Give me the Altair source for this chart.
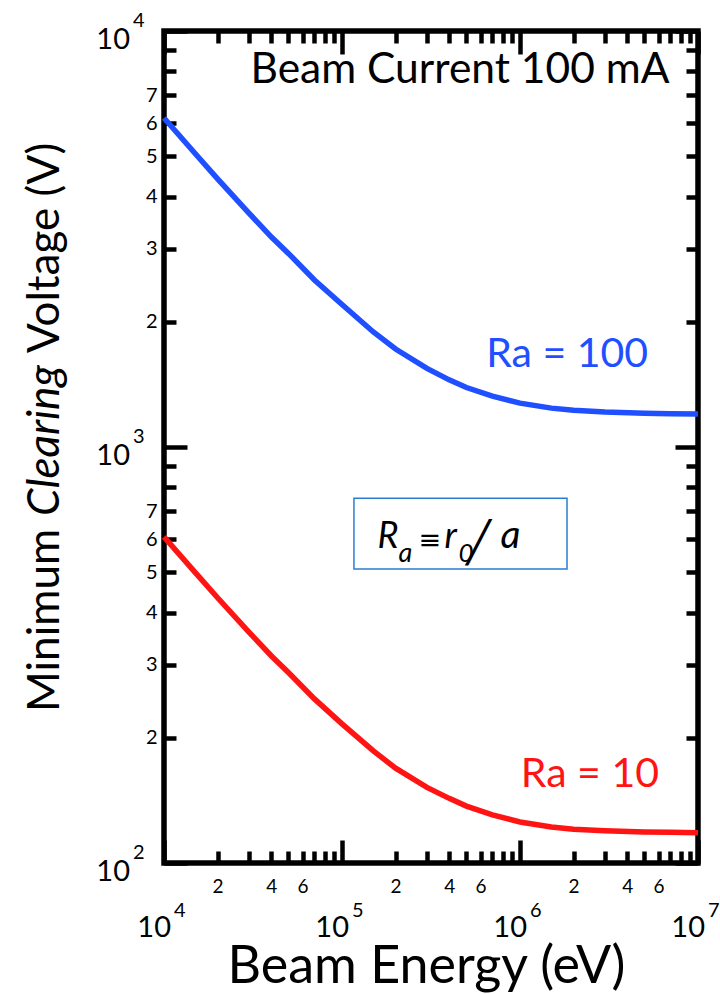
import math

import altair as alt
import pandas as pd

# ---- data -------------------------------------------------------------
# Beam energy (eV)
energy = [1e4, 1.5e4, 2e4, 3e4, 4e4, 5e4, 7e4, 1e5, 1.5e5, 2e5, 3e5, 4e5, 5e5,
          7e5, 1e6, 1.5e6, 2e6, 3e6, 5e6, 7e6, 1e7]
# Minimum clearing voltage (V) for Ra = 100 and Ra = 10
volt_ra100 = [6180, 5070, 4410, 3650, 3200, 2920, 2520, 2200, 1890, 1720, 1545,
              1450, 1390, 1325, 1275, 1240, 1225, 1213, 1205, 1202, 1200]
volt_ra10 = [608, 499, 434, 359, 315, 287, 248, 216, 186, 169, 152,
             143, 137, 130.5, 125.5, 122, 120.5, 119.5, 118.8, 118.5, 118.3]

series_names = ["Ra = 100", "Ra = 10"]
series_colors = ["#1f4fff", "#ff1414"]

# decade ticks and the minor multipliers that carry a label
x_decades = [4, 5, 6, 7]
y_decades = [2, 3, 4]
minor_mult = [2, 3, 4, 5, 6, 7, 8, 9]
x_minor_labeled = [2, 4, 6]
y_minor_labeled = [2, 3, 4, 5, 6, 7]

# ---- layout / style -----------------------------------------------------
FONT = "Lato"
PLOT_W, PLOT_H = 534, 832
PAD = {"left": 164, "top": 31, "right": 22, "bottom": 131}

# annotation anchors (data coordinates)
label_energy = [1.84e6, 2.47e6]
label_volt = [1660, 163]
header_anchor = (4.6e5, 8060)
box_energy = [1.167e5, 1.837e6]
box_volt = [753, 509]

x_ticks = [m * 10 ** d for d in x_decades[:-1] for m in [1] + minor_mult] + [10 ** x_decades[-1]]
y_ticks = [m * 10 ** d for d in y_decades[:-1] for m in [1] + minor_mult] + [10 ** y_decades[-1]]

xs = alt.Scale(type="log", domain=[10 ** x_decades[0], 10 ** x_decades[-1]], nice=False)
ys = alt.Scale(type="log", domain=[10 ** y_decades[0], 10 ** y_decades[-1]], nice=False)

LOG10 = "(log(datum.value)/LN10)"
IS_MAJOR = f"(abs({LOG10} - round({LOG10})) < 0.001)"
MANT = f"round(datum.value / pow(10, floor({LOG10} + 0.001)))"
TICK_SIZE = alt.ExprRef(expr=f"{IS_MAJOR} ? -23 : -12")


def minor_label_expr(labeled):
    return f"{IS_MAJOR} ? '' : (indexof({labeled}, {MANT}) >= 0 ? '' + {MANT} : '')"


common_axis = dict(grid=False, domain=False, tickColor="black", tickWidth=4.5,
                   tickSize=TICK_SIZE, labelFont=FONT, labelColor="black",
                   labelOverlap=False, labelFlush=False)

x_bottom = alt.Axis(orient="bottom", values=x_ticks, labelExpr=minor_label_expr(x_minor_labeled),
                    labelFontSize=19, labelPadding=26, title="Beam Energy (eV)",
                    titleFont=FONT, titleFontSize=52, titleFontWeight="normal",
                    titleColor="black", titleX=PLOT_W / 2 - 5, titleY=119,
                    titleBaseline="alphabetic", titleAlign="center", **common_axis)
y_left = alt.Axis(orient="left", values=y_ticks, labelExpr=minor_label_expr(y_minor_labeled),
                  labelFontSize=20, labelPadding=19, title=None, **common_axis)
x_top = alt.Axis(orient="top", values=x_ticks, labels=False, title=None, **common_axis)
y_right = alt.Axis(orient="right", values=y_ticks, labels=False, title=None, **common_axis)

color = alt.Color("series:N", scale=alt.Scale(domain=series_names, range=series_colors), legend=None)

# ---- tables -------------------------------------------------------------
curves = pd.concat([
    pd.DataFrame({"energy": energy, "voltage": volt_ra100, "series": series_names[0]}),
    pd.DataFrame({"energy": energy, "voltage": volt_ra10, "series": series_names[1]}),
])
labels = pd.DataFrame({"energy": label_energy, "voltage": label_volt, "series": series_names})
x_major = pd.DataFrame({"e": [10.0 ** d for d in x_decades], "exp": [str(d) for d in x_decades]})
y_major = pd.DataFrame({"v": [10.0 ** d for d in y_decades], "exp": [str(d) for d in y_decades]})
box = pd.DataFrame({"e0": [box_energy[0]], "e1": [box_energy[1]],
                    "v0": [box_volt[0]], "v1": [box_volt[1]]})
anchor = pd.DataFrame({"e": [math.sqrt(box_energy[0] * box_energy[1])],
                       "v": [math.sqrt(box_volt[0] * box_volt[1])]})
header = pd.DataFrame({"e": [header_anchor[0]], "v": [header_anchor[1]]})
one = pd.DataFrame({"k": [0]})

# ---- layers -------------------------------------------------------------
lines = alt.Chart(curves).mark_line(strokeWidth=5.5).encode(
    x=alt.X("energy:Q", scale=xs, axis=x_bottom),
    y=alt.Y("voltage:Q", scale=ys, axis=y_left),
    color=color,
)

series_text = alt.Chart(labels).mark_text(font=FONT, fontSize=41, align="center",
                                          baseline="middle").encode(
    x=alt.X("energy:Q", scale=xs, axis=x_top),
    y=alt.Y("voltage:Q", scale=ys, axis=y_right),
    text="series:N",
    color=color,
)

header_text = alt.Chart(header).mark_text(text="Beam Current 100 mA", font=FONT, fontSize=42.5,
                                          align="center", baseline="middle", color="black").encode(
    x=alt.X("e:Q", scale=xs, axis=None), y=alt.Y("v:Q", scale=ys, axis=None))

x_ten = alt.Chart(x_major).mark_text(text="10", font=FONT, fontSize=29, align="right",
                                     baseline="alphabetic", dx=7, dy=74, color="black").encode(
    x=alt.X("e:Q", scale=xs, axis=None), y=alt.value(PLOT_H))
x_exp = alt.Chart(x_major).mark_text(font=FONT, fontSize=20, align="left",
                                     baseline="alphabetic", dx=10, dy=54, color="black").encode(
    x=alt.X("e:Q", scale=xs, axis=None), y=alt.value(PLOT_H), text="exp:N")
y_ten = alt.Chart(y_major).mark_text(text="10", font=FONT, fontSize=29, align="right",
                                     baseline="alphabetic", dx=-34, dy=18, color="black").encode(
    x=alt.value(0), y=alt.Y("v:Q", scale=ys, axis=None))
y_exp = alt.Chart(y_major).mark_text(font=FONT, fontSize=20, align="left",
                                     baseline="alphabetic", dx=-31, dy=-4, color="black").encode(
    x=alt.value(0), y=alt.Y("v:Q", scale=ys, axis=None), text="exp:N")

box_rect = alt.Chart(box).mark_rect(fillOpacity=0, stroke="#2a7ed2", strokeWidth=1.5).encode(
    x=alt.X("e0:Q", scale=xs, axis=None), x2="e1:Q",
    y=alt.Y("v0:Q", scale=ys, axis=None), y2="v1:Q")


def formula_piece(text, dx, dy, size, italic=True, font=FONT):
    return alt.Chart(anchor).mark_text(
        text=text, dx=dx, dy=dy, font=font, fontSize=size, align="left",
        baseline="alphabetic", fontStyle="italic" if italic else "normal", color="black",
    ).encode(x=alt.X("e:Q", scale=xs, axis=None), y=alt.Y("v:Q", scale=ys, axis=None))


# R_a ≡ r_0 / a
formula = [
    formula_piece("R", -83, 14, 36),
    formula_piece("a", -62, 28, 27),
    formula_piece("\u2261", -42, 15, 27, italic=False, font="DejaVu Sans"),
    formula_piece("r", -16, 14, 36),
    formula_piece("0", -2, 28, 26),
    formula_piece("\u2571", 6, 22, 40, italic=False, font="DejaVu Sans"),
    formula_piece("a", 40, 14, 39),
]


def ytitle_piece(text, y, italic=False):
    return alt.Chart(one).mark_text(
        text=text, angle=270, align="left", baseline="middle", font=FONT, fontSize=44,
        fontStyle="italic" if italic else "normal", color="black",
    ).encode(x=alt.value(-118), y=alt.value(y))


ytitle = [
    ytitle_piece("Minimum", 681),
    ytitle_piece("Clearing", 485, italic=True),
    ytitle_piece("Voltage (V)", 322),
]

chart = alt.layer(
    box_rect, lines, series_text, header_text, x_ten, x_exp, y_ten, y_exp,
    *formula, *ytitle,
).properties(
    width=PLOT_W, height=PLOT_H, padding=PAD, autosize=alt.AutoSizeParams(type="none"),
    background="white",
).configure_view(stroke="black", strokeWidth=5.5)

chart.save("out.html", embed_options={"renderer": "svg", "actions": False})
